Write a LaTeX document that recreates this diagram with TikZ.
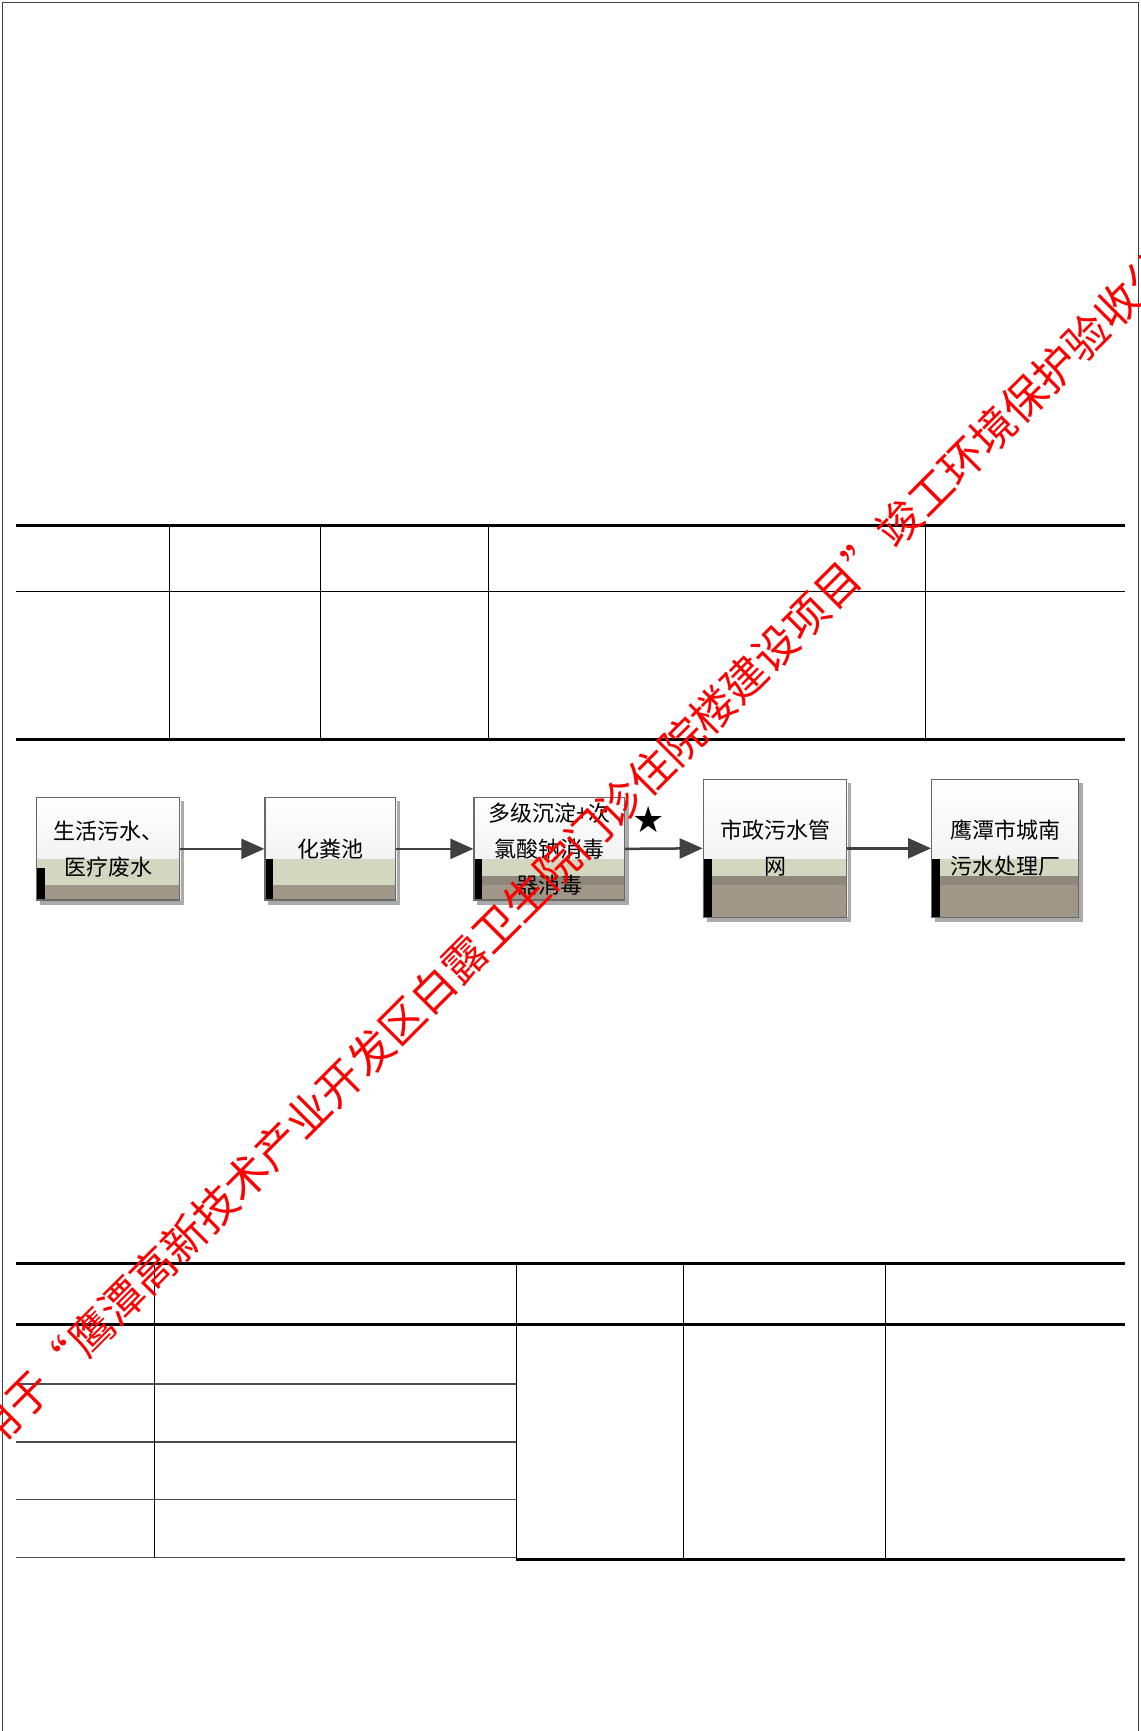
\documentclass[tikz,border=0pt]{standalone}
\usepackage{fontspec}
\newfontfamily\cjk{Noto Sans CJK SC}
\newfontfamily\dejavu{DejaVu Sans}
\usetikzlibrary{arrows.meta,backgrounds}
\pgfdeclarelayer{back}
\pgfdeclarelayer{mid}
\pgfsetlayers{back,mid,main}
\definecolor{bandgreen}{RGB}{211,215,192}
\definecolor{bandtaupe}{RGB}{160,151,136}
\definecolor{banddark}{RGB}{143,136,122}
\definecolor{boxline}{RGB}{105,105,105}
\definecolor{arrowgray}{RGB}{64,64,64}
\definecolor{shadowgray}{RGB}{170,170,170}
\definecolor{wmred}{RGB}{255,0,0}
\newcommand\boxdeco[3]{%
  \begin{pgfonlayer}{back}
    \fill[shadowgray] ([shift={(4,4)}]#1.north west) rectangle ([shift={(4,4)}]#1.south east);
    \shade[top color=white, bottom color=black!8] (#1.north west) rectangle (#1.south east);
  \end{pgfonlayer}
  \begin{pgfonlayer}{mid}
    \fill[bandgreen] (#1.west |- gtop) rectangle (#1.east |- gmid);
    \fill[#2] (#1.west |- gmid) rectangle (#1.east |- gbot);
    \fill[bandtaupe] (#1.west |- gbot) rectangle (#1.south east);
    \fill[black] (#1.west |- #3) rectangle ([xshift=9pt]#1.south west);
  \end{pgfonlayer}}
\begin{document}
\begin{tikzpicture}[x=1pt,y=-1pt,
  flowbox/.style={draw=boxline, line width=1.3pt, inner sep=0pt, align=center,
    font=\cjk\fontsize{22}{36}\selectfont, text=black},
  flowarrow/.style={draw=arrowgray, line width=2.5pt, -{Triangle[length=23pt,width=20pt]}},
  thickrule/.style={line width=3pt, black},
  thinrule/.style={line width=1pt, black},
  grayrule/.style={line width=1.3pt, black!70},
  pageline/.style={line width=1pt, black!75},
]
\clip (0,0) rectangle (1140,1731);
\begin{pgfonlayer}{back}
\fill[white] (0,0) rectangle (1140,1731);
\end{pgfonlayer}
\coordinate (gtop) at (0,859);
\coordinate (gmid) at (0,876);
\coordinate (gbot) at (0,885);
\coordinate (gbar) at (0,868);

% page frame
\draw[pageline] (2.5,1731) -- (2.5,3) -- (1138,3) -- (1138,1731);

% table 1
\draw[thickrule] (16,525.7) -- (1125,525.7);
\draw[thinrule] (16,591) -- (1125,591);
\draw[thickrule] (16,739) -- (1125,739);
\foreach \x in {169.5,320.7,488.7,925.8}
  \draw[thinrule] (\x,525.7) -- (\x,739);

% table 2
\draw[thickrule] (16,1263.7) -- (1125,1263.7);
\draw[thickrule] (16,1324) -- (1125,1324);
\foreach \y in {1384,1442,1499.7,1557.7}
  \draw[grayrule] (16,\y) -- (516.4,\y);
\draw[thickrule] (516.4,1559.3) -- (1125,1559.3);
\draw[thinrule] (154,1263.7) -- (154,1557.7);
\foreach \x in {516.4,683.6,885.8}
  \draw[thinrule] (\x,1263.7) -- (\x,1559.3);

% flow boxes
\node[flowbox, minimum width=143.1pt, minimum height=102.3pt] (b1) at (108.15,848.85) {生活污水、\\医疗废水};
\node[flowbox, minimum width=130.6pt, minimum height=102.3pt] (b2) at (330.3,848.85) {化粪池};
\node[flowbox, minimum width=150.5pt, minimum height=102.3pt] (b3) at (549.25,848.85) {多级沉淀+次\\氯酸钠消毒\\器消毒};
\node[flowbox, minimum width=143.4pt, minimum height=138pt] (b4) at (775,848.3) {市政污水管\\网};
\node[flowbox, minimum width=146.6pt, minimum height=138pt] (b5) at (1005,848.3) {鹰潭市城南\\污水处理厂};
\boxdeco{b1}{bandgreen}{gbar}
\boxdeco{b2}{bandgreen}{gtop}
\boxdeco{b3}{banddark}{gtop}
\boxdeco{b4}{banddark}{gtop}
\boxdeco{b5}{banddark}{gtop}

\draw[flowarrow] (b1.east) -- (b2.west);
\draw[flowarrow] (b2.east) -- (b3.west);
\draw[flowarrow] (b3.east) -- (b4.west);
\draw[flowarrow] (b4.east) -- (b5.west);
\node[font=\dejavu\fontsize{36}{36}\selectfont, inner sep=0pt] (star) at (649,820) {★};

% watermark
\node[rotate=45, text=wmred, font=\cjk\fontsize{44}{44}\selectfont, inner sep=0pt] (wm) at (573,850)
  {用于“鹰潭高新技术产业开发区白露卫生院门诊住院楼建设项目”竣工环境保护验收公};
\end{tikzpicture}
\end{document}
